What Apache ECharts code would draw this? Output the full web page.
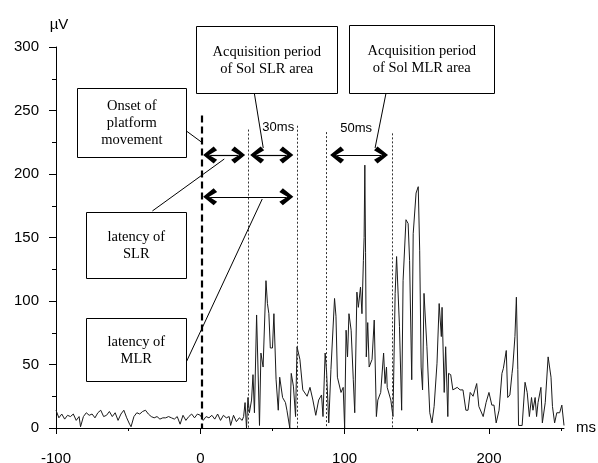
<!DOCTYPE html>
<html><head><meta charset="utf-8">
<script src="https://cdn.jsdelivr.net/npm/echarts@6/dist/echarts.min.js"></script>
<style>html,body{margin:0;padding:0;background:#fff}#c{width:598px;height:463px}</style>
</head><body><div id="c"></div>
<script>
// ---- data (ms, µV) ----
const sigT = [-100,-98,-96,-94,-92,-90,-88,-86,-84,-83,-81,-79,-77,-75,-73,-71,-69,-67,-65,-63,-61,-59,-57,-55,-53,-51,-49,-48,-46,-44,-42,-40,-38,-36,-34,-32,-30,-28,-26,-24,-22,-20,-18,-16,-14,-12,-10,-8,-6,-4,-2,0,2,4,6,8,10,12,14,16,18,20,21,23,25,27,29,
30,31,32,33,34,35.5,36.5,37.5,39,41,42,43.5,45.5,46.5,47.5,48.5,50,51,52.5,54,55,57,59,60,62,63,64.5,66,67,69,71,74,76,78,80,82,84,85,86.5,87.5,89,90.5,93,94,95,96,97.5,99,100,101,102,103,104.5,106,107,108.5,109.5,111,112,113,113.5,114,114.5,115,116,117,119,120.5,122,123,125,127,128,129,129.5,132,133.5,135,136,138,139.5,140.5,142.5,144,145,146.5,147.5,149.5,151,152,153,154,155,157,159,160.5,162,164,165.5,167,167.5,169,170,171.5,172,173.5,175,178,180,182,184,185.5,187,189,191.5,193,196,198,200,202,203.5,205,207,209,210,212,213,214.5,216,216.5,218,219,220,220.5,223,225,226.5,228,229.5,230.5,232,233,234,236,237,239,241,243,244,245.5,247,249,250.5,252];
const sigV = [14,8,11,7,10,9,11,6,9,1,9,12,10,11,8,12,14,9,10,13,9,12,6,11,14,8,3,1,9,12,11,13,14,11,9,8,9,7,8,8,9,8,7,9,3,10,6,9,11,8,11,10,6,9,8,10,7,11,6,10,8,9,2,10,5,8,6,
9,20,0,24,12,22,42,12,89,2,59,48,116,98,90,63,63,90,38,14,40,24,20,14,0,43,33,9,64,54,30,25,32,22,10,22,26,9,59,44,4,46,102,88,40,40,28,32,0,77,56,90,77,38,12,107,95,111,90,132,150,207,138,56,83,48,54,85,9,22,28,59,35,48,32,22,9,106,135,80,14,116,164,161,132,38,153,185,190,140,48,30,106,64,12,4,17,51,98,72,95,28,64,9,43,42,30,32,30,30,14,14,28,25,35,17,9,20,28,18,18,4,14,43,47,61,24,26,43,48,72,103,46,2,2,36,28,9,24,14,24,9,20,32,4,20,56,40,17,4,12,12,18,2];
const xTickVals = [-100, 0, 100, 200];
const xMinorVals = [-50, 50, 150, 250];

// ---- annotations (data units) ----
const onsetLine = [1, 246];                 // dashed line: ms, top µV
const periodLines = [[33,235],[67,238],[87,233],[133,232]]; // dotted lines
const arrows = [[2,31,215],[34.6,64.4,215],[2,64.4,182],[90,130,215]]; // from, to, level
const leaders = [[-9.7,233.9,0.7,225.2],[37.4,263.8,43.6,220.5],[128.7,263.8,121.1,220.5],[-33.2,170.9,16.6,211.8],[-9.7,52,42.9,180.3]];
const boxTexts = [['Onset of','platform','movement'],['Acquisition period','of Sol SLR area'],['Acquisition period','of Sol MLR area'],['latency of','SLR'],['latency of','MLR']];
const boxExtents = [[-85.2,-9.7,267.7,213.4],[-2.8,94.9,316.5,263.8],[103.2,203.7,317.3,263.8],[-79,-9.7,170.1,118.1],[-79,-9.7,86.6,37]];
const spanLabels = [['30ms',54,237],['50ms',108,236]];

const chart = echarts.init(document.getElementById('c'), null, {renderer:'canvas'});
const sans = 'Liberation Sans';
const serif = 'Liberation Serif';
const chevron = 'path://M8,0 L16,10.5 L12.5,14 L8,6 L3.5,14 L0,10.5 Z';
const headHalf = 4.8; // ms, so the chevron tip sits at the end value

const mlData = [];
mlData.push([{coord:[onsetLine[0],onsetLine[1]],lineStyle:{type:[7,4],width:2.2,color:'#000'}},{coord:[onsetLine[0],0]}]);
periodLines.forEach(p=>mlData.push([{coord:[p[0],p[1]],lineStyle:{type:[2,2],width:1,color:'#333'}},{coord:[p[0],0]}]));
leaders.forEach(l=>mlData.push([{coord:[l[0],l[1]],lineStyle:{type:'solid',width:1,color:'#000'}},{coord:[l[2],l[3]]}]));
arrows.forEach(a=>mlData.push([
  {coord:[a[0]+headHalf,a[2]],symbol:chevron,symbolSize:[17,14],lineStyle:{type:'solid',width:1.2,color:'#000'},itemStyle:{color:'#000'}},
  {coord:[a[1]-headHalf,a[2]],symbol:chevron,symbolSize:[17,14],itemStyle:{color:'#000'}}
]));

chart.setOption({
  animation:false,
  grid:{left:56,right:34,top:47,bottom:35,containLabel:false,outerBoundsMode:'none'},
  xAxis:[{
    type:'value',min:-100,max:252,
    axisLine:{onZero:false,lineStyle:{color:'#000',width:1}},
    axisTick:{customValues:xTickVals,length:6,lineStyle:{color:'#000'}},
    axisLabel:{customValues:xTickVals,color:'#000',fontFamily:sans,fontSize:15,margin:23},
    splitLine:{show:false},
    name:'ms',nameLocation:'end',nameGap:12,
    nameTextStyle:{color:'#000',fontFamily:sans,fontSize:15,verticalAlign:'middle'}
  },{
    type:'value',min:-100,max:252,position:'bottom',
    axisLine:{show:false,onZero:false},
    axisTick:{customValues:xMinorVals,length:3,lineStyle:{color:'#000'}},
    axisLabel:{show:false},splitLine:{show:false}
  }],
  yAxis:{
    type:'value',min:0,max:300,interval:50,position:'left',
    axisLine:{show:true,onZero:false,lineStyle:{color:'#000',width:1}},
    axisTick:{show:true,length:7,lineStyle:{color:'#000'}},
    minorTick:{show:true,splitNumber:2,length:4,lineStyle:{color:'#000'}},
    axisLabel:{color:'#000',fontFamily:sans,fontSize:15,margin:17},
    splitLine:{show:false},
    name:'µV',nameLocation:'end',nameGap:15,
    nameTextStyle:{color:'#000',fontFamily:sans,fontSize:15,align:'center',padding:[0,0,0,6]}
  },
  series:[{
    type:'line',xAxisIndex:0,
    data:sigT.map((t,i)=>[t,sigV[i]]),
    showSymbol:false,symbol:'none',
    lineStyle:{color:'#1a1a1a',width:1},
    silent:true,
    markLine:{silent:true,symbol:['none','none'],label:{show:false},animation:false,
      emphasis:{disabled:true},data:mlData}
  }]
});

const px = v => chart.convertToPixel({gridIndex:0}, v);
const g = [];
boxExtents.forEach((b,i)=>{
  const p0 = px([b[0],b[2]]), p1 = px([b[1],b[3]]);
  g.push({type:'rect',shape:{x:Math.round(p0[0])+0.5,y:Math.round(p0[1])+0.5,width:Math.round(p1[0]-p0[0]),height:Math.round(p1[1]-p0[1])},
    style:{fill:'#fff',stroke:'#000',lineWidth:1},z:100});
  g.push({type:'text',x:(p0[0]+p1[0])/2,y:(p0[1]+p1[1])/2+1,
    style:{text:boxTexts[i].join('\n'),align:'center',verticalAlign:'middle',fill:'#000',
      font:'14.5px "'+serif+'"',lineHeight:17},z:101});
});
spanLabels.forEach(s=>{
  const p = px([s[1],s[2]]);
  g.push({type:'text',x:p[0],y:p[1],style:{text:s[0],align:'center',verticalAlign:'middle',fill:'#000',font:'13px "'+sans+'"'},z:101});
});
chart.setOption({graphic:g});
</script></body></html>
